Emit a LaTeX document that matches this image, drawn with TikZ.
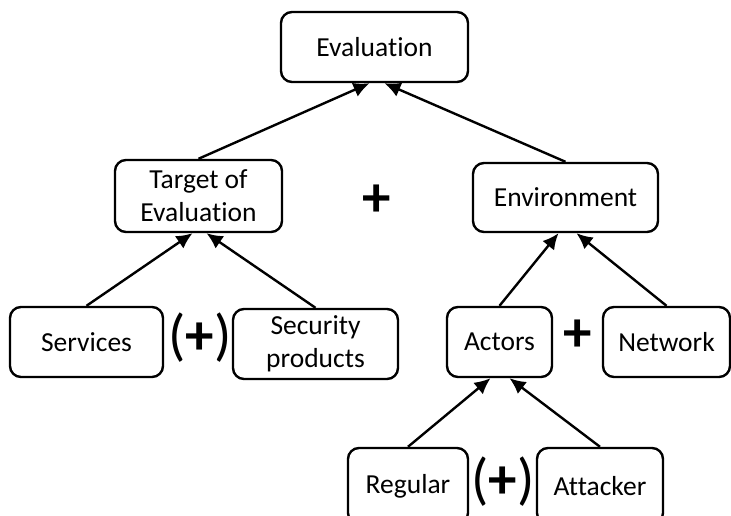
\documentclass[tikz,border=0pt]{standalone}
\usepackage{fontspec}
\setmainfont[Ligatures=NoCommon]{Carlito}
\usetikzlibrary{arrows.meta}
\begin{document}
\begin{tikzpicture}[x=1pt,y=1pt,yscale=-1,xscale=1,
  box/.style={draw,line width=2.4pt,rounded corners=11pt,align=center,inner sep=0pt,font=\fontsize{27.5}{33}\selectfont},
  link/.style={line width=2.4pt,-{Latex[length=16pt,width=15pt]}},
  plus/.style={inner sep=0pt,font=\fontsize{57}{57}\selectfont}]
\useasboundingbox (0,0) rectangle (731,516);

%Rounded Rectangles
\node [box,minimum width=187pt,minimum height=70pt] (eval) at (374.5,47) {Evaluation};
\node [box,minimum width=167pt,minimum height=72pt] (tgt) at (198.5,196) {Target of\\Evaluation};
\node [box,minimum width=185pt,minimum height=69pt] (env) at (565.5,197.5) {Environment};
\node [box,minimum width=153pt,minimum height=70pt] (srv) at (86.5,342) {Services};
\node [box,minimum width=165pt,minimum height=70pt] (sec) at (315.5,344) {Security\\products};
\node [box,minimum width=105pt,minimum height=70pt] (act) at (499.5,342) {Actors};
\node [box,minimum width=127pt,minimum height=70pt] (net) at (666.5,342) {Network};
\node [box,minimum width=120pt,minimum height=76pt] (reg) at (408,486) {Regular};
\node [box,minimum width=126pt,minimum height=76pt] (att) at (600,486) {Attacker};

% Text Node
\node [plus] (plusA) at (377,201) {\textbf{+}};
\node [plus] (plusB) at (200,338) {(\textbf{+})};
\node [plus] (plusC) at (578,336) {\textbf{+}};
\node [plus] (plusD) at (503,482) {(\textbf{+})};

%Straight Lines
\draw [link] (tgt.north) -- ([xshift=-5pt]eval.south);
\draw [link] (env.north) -- ([xshift=10pt]eval.south);
\draw [link] (srv.north) -- ([xshift=-6pt]tgt.south);
\draw [link] (sec.north) -- ([xshift=8pt]tgt.south);
\draw [link] (act.north) -- ([xshift=-7pt]env.south);
\draw [link] (net.north) -- ([xshift=11pt]env.south);
\draw [link] (reg.north) -- ([xshift=-9pt]act.south);
\draw [link] (att.north) -- ([xshift=10pt]act.south);

\end{tikzpicture}
\end{document}
